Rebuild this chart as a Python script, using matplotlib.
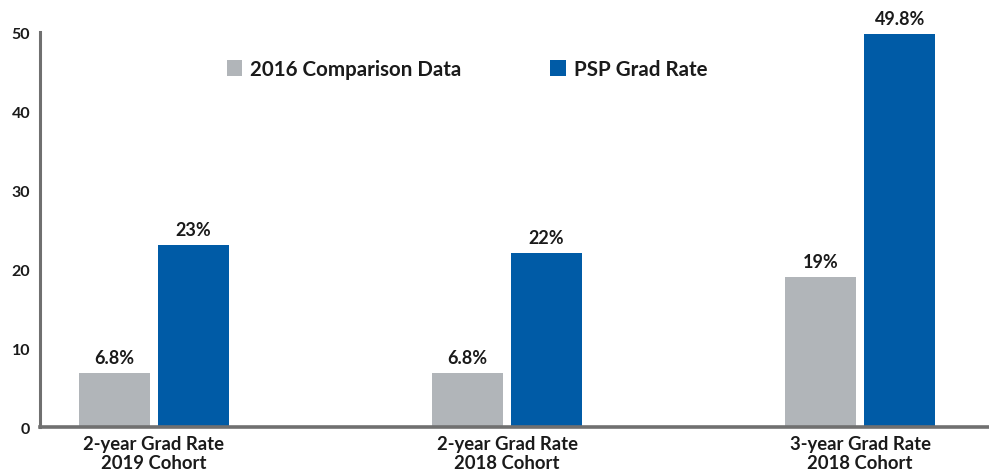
import matplotlib.pyplot as plt
import numpy as np

# data
categories = ["2-year Grad Rate\n2019 Cohort", "2-year Grad Rate\n2018 Cohort", "3-year Grad Rate\n2018 Cohort"]
comparison = [6.8, 6.8, 19]
psp_rate = [23, 22, 49.8]
comparison_labels = ["6.8%", "6.8%", "19%"]
psp_labels = ["23%", "22%", "49.8%"]
series_names = ["2016 Comparison Data", "PSP Grad Rate"]
yticks = [0, 10, 20, 30, 40, 50]

gray = "#B1B5B9"
blue = "#005BA6"

plt.rcParams['font.family'] = ['Lato', 'DejaVu Sans']
plt.rcParams['font.weight'] = 'bold'

fig = plt.figure(figsize=(9.89, 4.77), dpi=100)
ax = fig.add_axes([0.0404, 0.1027, 0.9596, 0.828])

x = np.arange(len(categories))
w = 0.2
gap = 0.012
b1 = ax.bar(x - w / 2 - gap, comparison, w, color=gray, label=series_names[0])
b2 = ax.bar(x + w / 2 + gap, psp_rate, w, color=blue, label=series_names[1])

ax.bar_label(b1, labels=comparison_labels, padding=5, fontsize=13, fontweight='bold', color='#1a1a1a')
ax.bar_label(b2, labels=psp_labels, padding=5, fontsize=13, fontweight='bold', color='#1a1a1a')

ax.set_xlim(-0.323, 2.365)
ax.set_ylim(0, 50)
ax.set_yticks(yticks)
ax.set_xticks(x)
ax.set_xticklabels(categories, fontsize=13.3, fontweight='bold', color='#1a1a1a', linespacing=1.1)
ax.tick_params(axis='both', length=0)
ax.tick_params(axis='y', labelsize=11.5, labelcolor='#1a1a1a', pad=7)
ax.tick_params(axis='x', pad=6)

for s in ['top', 'right']:
    ax.spines[s].set_visible(False)
ax.spines['left'].set_color('#707070')
ax.spines['left'].set_linewidth(2.2)
ax.spines['bottom'].set_color('#707070')
ax.spines['bottom'].set_linewidth(2.6)

leg = ax.legend(loc='center', bbox_to_anchor=(0.450, 0.906), ncol=2, frameon=False,
                fontsize=14.8, handlelength=0.75, handleheight=0.75, handletextpad=0.4,
                columnspacing=4.3)
for t in leg.get_texts():
    t.set_fontweight('bold')
    t.set_color('#1a1a1a')

fig.savefig("out.png", dpi=100)
